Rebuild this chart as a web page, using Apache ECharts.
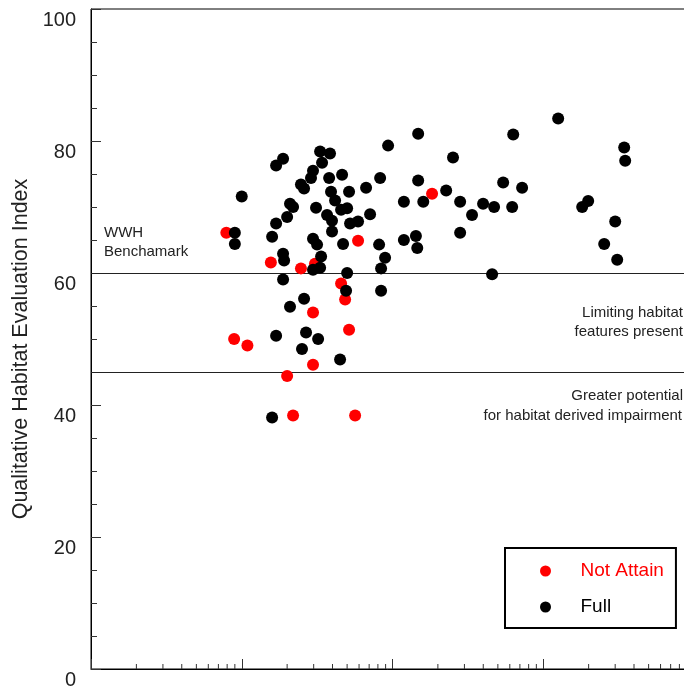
<!DOCTYPE html>
<html>
<head>
<meta charset="utf-8">
<script src="https://cdn.jsdelivr.net/npm/echarts@6/dist/echarts.min.js"></script>
<style>
  html, body { margin: 0; padding: 0; background: #fff; }
  #chart { width: 684px; height: 686px; }
</style>
</head>
<body>
<div id="chart"></div>
<script>
// not attaining sites [x, QHEI]
var notAttain = [
  [7.9, 66.1], [8.9, 50.0], [10.9, 49.0], [15.6, 61.6], [20.0, 44.4],
  [21.9, 38.4], [24.7, 60.7], [29.7, 54.0], [29.7, 46.1], [30.6, 61.4],
  [45.6, 58.4], [48.5, 56.0], [51.5, 51.4], [56.5, 38.4], [59.1, 64.9],
  [183, 72.0]
];

// full attainment sites [x, QHEI]
var full = [
  [9.0, 66.1], [9.0, 64.4], [10.0, 71.6], [15.9, 65.5], [16.9, 76.3],
  [18.8, 77.3], [16.9, 67.5], [20.0, 68.5], [20.9, 70.5], [21.9, 70.0],
  [18.8, 62.9], [19.1, 61.9], [18.8, 59.0], [20.9, 54.9], [16.9, 50.5],
  [15.9, 38.1], [24.7, 73.4], [25.9, 72.8], [25.9, 56.1], [26.7, 51.0],
  [25.1, 48.5], [32.1, 50.0], [28.8, 74.4], [29.7, 75.5], [33.1, 78.4],
  [38.5, 78.1], [34.1, 76.7], [38.0, 74.4], [39.1, 72.3], [41.6, 71.0],
  [31.1, 69.9], [36.8, 68.8], [39.7, 67.9], [39.7, 66.3], [29.7, 65.2],
  [31.6, 64.3], [33.6, 62.5], [29.7, 60.5], [33.1, 60.8], [46.3, 74.9],
  [51.5, 72.3], [45.6, 69.6], [50.0, 69.8], [52.3, 67.5], [59.1, 67.8],
  [47.0, 64.4], [50.0, 60.0], [49.2, 57.3], [44.9, 46.9], [66.8, 72.9],
  [71.0, 68.9], [82.8, 74.4], [93.5, 79.3], [81.5, 64.3], [89.3, 62.3],
  [84.0, 60.7], [84.0, 57.3], [119, 70.8], [119, 65.0], [143, 65.6],
  [146, 63.8], [148, 81.1], [148, 74.0], [160, 70.8], [227, 72.5],
  [252, 77.5], [281, 70.8], [281, 66.1], [337, 68.8], [399, 70.5],
  [472, 70.0], [458, 59.8], [542, 73.7], [622, 70.0], [632, 81.0],
  [724, 72.9], [1256, 83.4], [1812, 70.0], [1986, 70.9], [3001, 67.8],
  [2536, 64.4], [3094, 62.0], [3443, 79.0], [3496, 77.0]
];

var thresholds = [60, 45];
var decades = [1, 10, 100, 1000];
var minorSteps = [2, 3, 4, 5, 6, 7, 8, 9];

var xMinorTicks = [];
for (var i = 0; i < decades.length; i++) {
  for (var j = 0; j < minorSteps.length; j++) {
    xMinorTicks.push([decades[i] * minorSteps[j], 0]);
  }
}

var font = 'Liberation Sans, Arial, Helvetica, sans-serif';
var myChart = echarts.init(document.getElementById('chart'));

function note(text, x, y, align) {
  return {
    type: 'text', x: x, y: y, z: 10,
    style: { text: text, font: '15px ' + font, fill: '#222', align: align, verticalAlign: 'middle' }
  };
}

var option = {
  animation: false,
  textStyle: { fontFamily: font },
  // plot runs past the right edge of the picture (1 .. 10^4)
  grid: {
    left: 91, top: 9, width: 603, height: 660,
    outerBoundsMode: 'none', containLabel: false,
    show: true, borderColor: '#000', borderWidth: 1
  },
  xAxis: {
    type: 'log', logBase: 10, min: 1, max: 10000,
    axisLine: { lineStyle: { color: '#000', width: 1 } },
    axisTick: { inside: true, length: 10, lineStyle: { color: '#333' } },
    axisLabel: { show: false },
    splitLine: { show: false }
  },
  yAxis: {
    type: 'value', min: 0, max: 100, interval: 20,
    name: 'Qualitative Habitat Evaluation Index',
    nameLocation: 'middle', nameRotate: 90, nameGap: 58,
    nameTextStyle: { fontSize: 21.5, color: '#222', fontFamily: font, padding: [0, 20, 0, 0] },
    axisLine: { show: true, lineStyle: { color: '#000', width: 1 } },
    axisTick: { show: true, inside: true, length: 10, lineStyle: { color: '#333' } },
    minorTick: { show: true, splitNumber: 4, length: 6, lineStyle: { color: '#333' } },
    axisLabel: { fontSize: 20, color: '#222', margin: 15, verticalAlign: 'top', lineHeight: 22, fontFamily: font },
    splitLine: { show: false }
  },
  legend: {
    left: 505, top: 548, orient: 'vertical',
    borderColor: '#000', borderWidth: 2,
    padding: [12, 12, 10, 35],
    itemWidth: 60, itemHeight: 11, itemGap: 14,
    textStyle: { fontSize: 19, lineHeight: 22, fontFamily: font },
    data: [
      { name: 'Not Attain', icon: 'circle', textStyle: { color: '#ff0000' } },
      { name: 'Full', icon: 'circle', textStyle: { color: '#000' } }
    ]
  },
  graphic: [
    note('WWH', 104, 233, 'left'),
    note('Benchamark', 104, 252, 'left'),
    note('Limiting habitat', 683, 313, 'right'),
    note('features present', 683, 332, 'right'),
    note('Greater potential', 683, 396, 'right'),
    note('for habitat derived impairment', 682, 416, 'right')
  ],
  series: [
    {
      name: 'Not Attain', type: 'scatter', symbol: 'circle', symbolSize: 12,
      itemStyle: { color: '#ff0000', opacity: 1 },
      data: notAttain,
      markLine: {
        silent: true, symbol: ['none', 'none'], z: 1,
        label: { show: false },
        lineStyle: { color: '#222', width: 1, type: 'solid' },
        data: thresholds.map(function (v) { return { yAxis: v }; })
      }
    },
    {
      name: 'Full', type: 'scatter', symbol: 'circle', symbolSize: 12,
      itemStyle: { color: '#000', opacity: 1 },
      data: full
    },
    {
      // minor ticks 2..9 on the log axis
      type: 'custom', silent: true, z: 5, clip: false,
      data: xMinorTicks,
      renderItem: function (params, api) {
        var p = api.coord([api.value(0), api.value(1)]);
        return {
          type: 'line',
          shape: { x1: p[0], y1: p[1], x2: p[0], y2: p[1] - 5 },
          style: { stroke: '#333', lineWidth: 1 }
        };
      }
    }
  ]
};
myChart.setOption(option);
</script>
</body>
</html>
